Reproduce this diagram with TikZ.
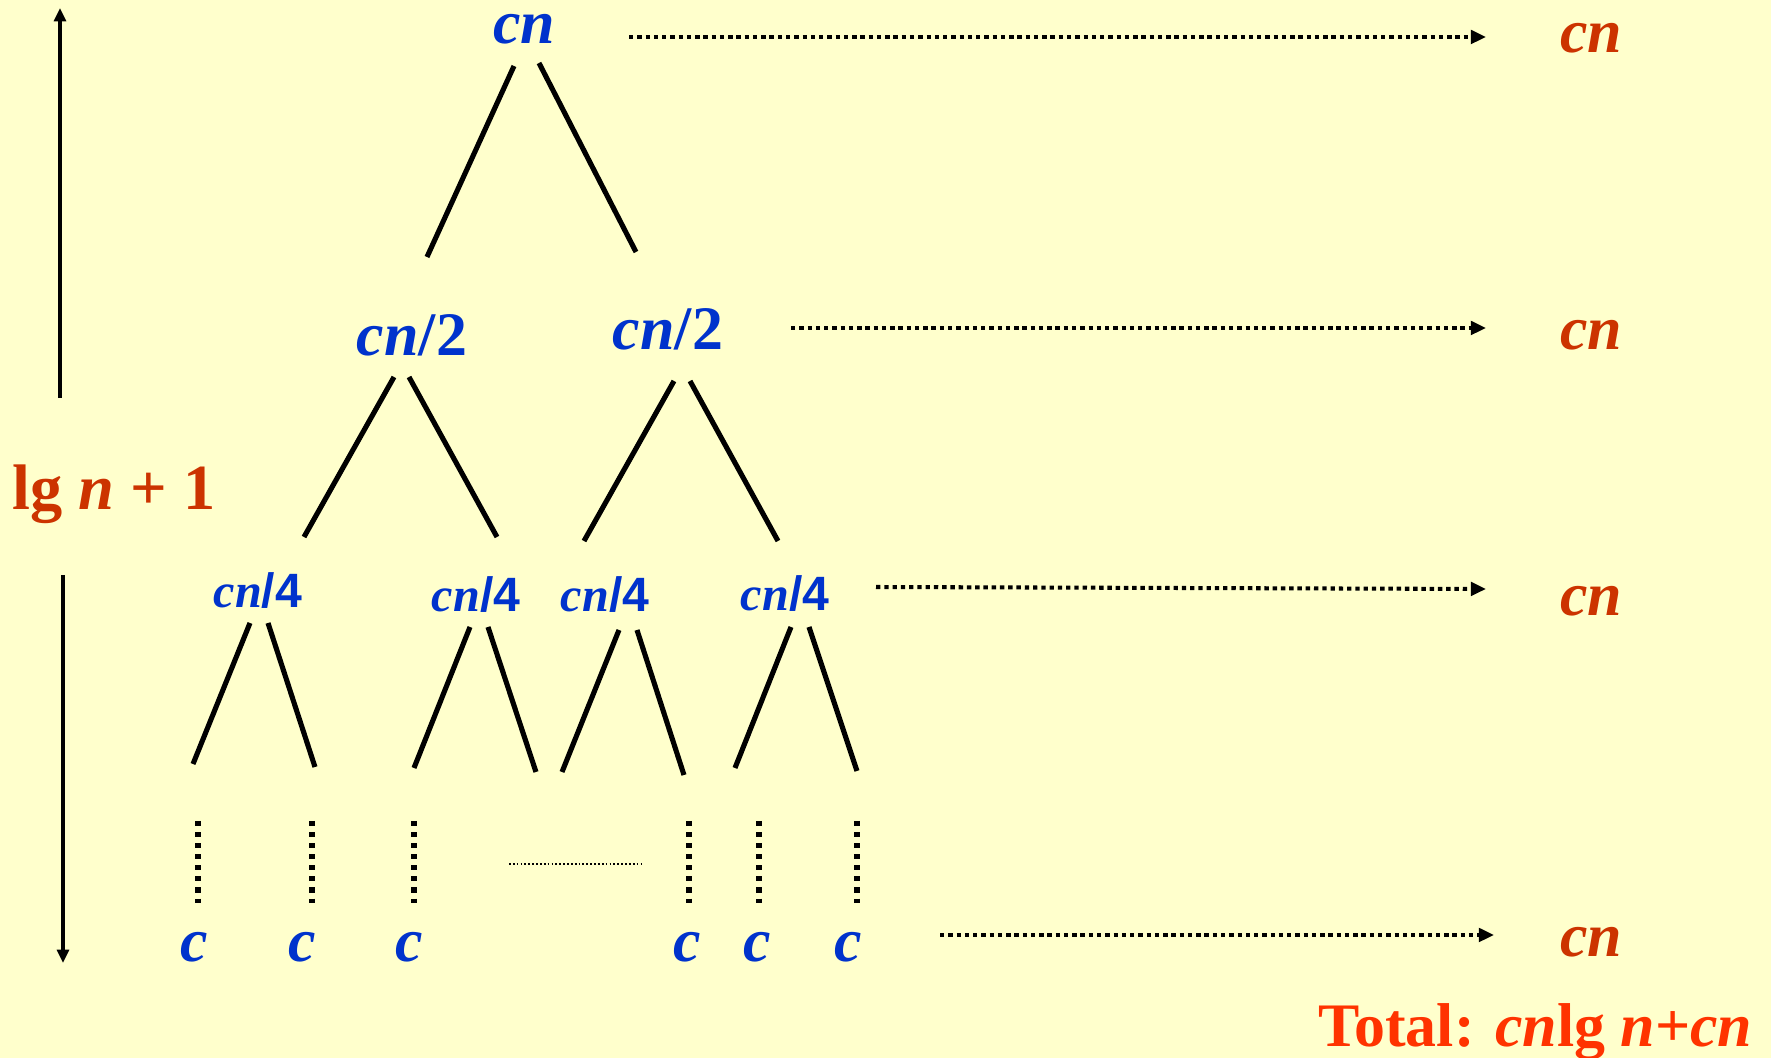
\documentclass[tikz,border=0pt]{standalone}
\usepackage{fontspec}
\setmainfont{Liberation Serif}
\newfontfamily\sansfam{Liberation Sans}
\usetikzlibrary{arrows.meta}
\definecolor{bg}{HTML}{FFFFCC}
\definecolor{treeblue}{HTML}{0033CC}
\definecolor{rust}{HTML}{CC3300}
\definecolor{totalred}{HTML}{FF3300}
\begin{document}
\begin{tikzpicture}[x=0.01cm,y=-0.01cm,
  big/.style={font=\fontsize{17.6}{20}\selectfont\bfseries, inner sep=0pt, anchor=base},
  lvl/.style={big, text=treeblue},
  smalllvl/.style={font=\fontsize{13.7}{16}\selectfont\bfseries, inner sep=0pt, anchor=base, text=treeblue},
  sumlbl/.style={big, text=rust},
  edge/.style={line width=1.45pt},
  levelarrow/.style={line width=1.15pt, dash pattern=on 1.25pt off 1.1pt, -{Triangle[length=4.3pt,width=3.8pt]}},
  vdots/.style={line width=1.5pt, dash pattern=on 1.45pt off 1.7pt},
  hdots/.style={line width=0.5pt, dash pattern=on 0.5pt off 0.6pt},
  spanarrow/.style={line width=0.9pt, -{Triangle[length=3.8pt,width=3.4pt]}}
]
\fill[bg] (0,0) rectangle (1771,1058);
\useasboundingbox (0,0) rectangle (1771,1058);

% tree labels
\node[lvl] (root) at (524,44) {\itshape cn};
\node[lvl] (h1) at (412,356) {{\itshape cn}/2};
\node[lvl] (h2) at (668,350) {{\itshape cn}/2};
\node[smalllvl] (q1) at (258,608) {{\itshape cn}{\sansfam /4}};
\node[smalllvl] (q2) at (476,612) {{\itshape cn}{\sansfam /4}};
\node[smalllvl] (q3) at (605,612) {{\itshape cn}{\sansfam /4}};
\node[smalllvl] (q4) at (785,611) {{\itshape cn}{\sansfam /4}};
\foreach \x/\n in {194/c1,302/c2,409/c3,687/c4,757/c5,848/c6}
  \node[lvl] (\n) at (\x,962) {\itshape c};

% right column sums
\node[sumlbl] (s0) at (1591,53) {\itshape cn};
\node[sumlbl] (s1) at (1591,350) {\itshape cn};
\node[sumlbl] (s2) at (1591,616) {\itshape cn};
\node[sumlbl] (s3) at (1591,957) {\itshape cn};
\node[big, text=totalred, anchor=base east] (tot) at (1753,1047) {Total: {\itshape cn}lg {\itshape n}+{\itshape cn}};

% height label
\node[font=\fontsize{18.3}{21}\selectfont\bfseries, inner sep=0pt, text=rust, anchor=base west] (ht) at (12,510) {lg {\itshape n} + 1};

% tree edge end points
\coordinate (r-a) at (514,66);  \coordinate (r-b) at (427,257);
\coordinate (r-c) at (539,63);  \coordinate (r-d) at (636,252);
\coordinate (h1-a) at (394,377); \coordinate (h1-b) at (304,537);
\coordinate (h1-c) at (409,377); \coordinate (h1-d) at (497,537);
\coordinate (h2-a) at (674,381); \coordinate (h2-b) at (584,541);
\coordinate (h2-c) at (690,381); \coordinate (h2-d) at (778,541);
\coordinate (q1-a) at (250,623); \coordinate (q1-b) at (193,764);
\coordinate (q1-c) at (268,623); \coordinate (q1-d) at (315,767);
\coordinate (q2-a) at (470,627); \coordinate (q2-b) at (414,768);
\coordinate (q2-c) at (488,627); \coordinate (q2-d) at (536,772);
\coordinate (q3-a) at (619,630); \coordinate (q3-b) at (562,772);
\coordinate (q3-c) at (637,630); \coordinate (q3-d) at (684,775);
\coordinate (q4-a) at (791,627); \coordinate (q4-b) at (735,768);
\coordinate (q4-c) at (809,627); \coordinate (q4-d) at (857,771);
\foreach \n in {r,h1,h2,q1,q2,q3,q4}{
  \draw[edge] (\n-a) -- (\n-b);
  \draw[edge] (\n-c) -- (\n-d);
}

% vertical dotted continuations
\foreach \x/\n in {198/v1,312/v2,414/v3,689/v4,759/v5,857/v6}{
  \coordinate (\n-t) at (\x,821);
  \coordinate (\n-b) at (\x,903);
  \draw[vdots] (\n-t) -- (\n-b);
}
\coordinate (hd-l) at (509,864); \coordinate (hd-r) at (642,864);
\draw[hdots] (hd-l) -- (hd-r);

% level sum arrows
\coordinate (a0-s) at (629,37);  \coordinate (a0-e) at (1486,37);
\coordinate (a1-s) at (791,328); \coordinate (a1-e) at (1486,328);
\coordinate (a2-s) at (876,587); \coordinate (a2-e) at (1486,589);
\coordinate (a3-s) at (940,935); \coordinate (a3-e) at (1494,935);
\foreach \n in {a0,a1,a2,a3}
  \draw[levelarrow] (\n-s) -- (\n-e);

% height arrows
\coordinate (up-s) at (60,398); \coordinate (up-e) at (60,8);
\coordinate (dn-s) at (63,575); \coordinate (dn-e) at (63,963);
\draw[spanarrow] (up-s) -- (up-e);
\draw[spanarrow] (dn-s) -- (dn-e);
\end{tikzpicture}
\end{document}
